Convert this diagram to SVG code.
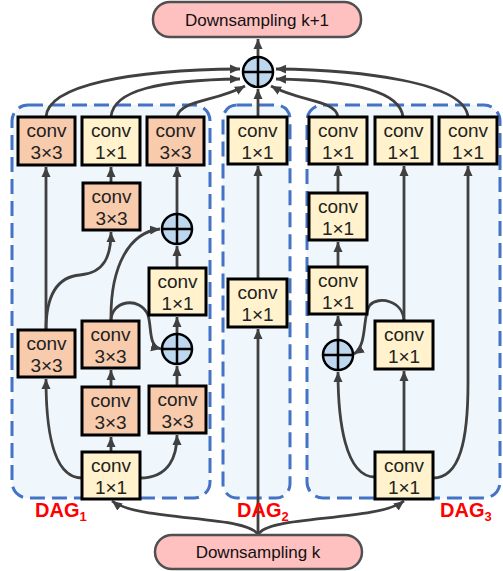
<svg xmlns="http://www.w3.org/2000/svg" width="503" height="571" viewBox="0 0 503 571">
<defs>
<marker id="ah" markerUnits="userSpaceOnUse" markerWidth="11" markerHeight="11" refX="10" refY="5.5" orient="auto">
<path d="M0,1 L10,5.5 L0,10 z" fill="#404040"/>
</marker>
<style>
.dag{fill:#eff7fd;stroke:#4472c4;stroke-width:3;stroke-dasharray:15 7}
.pill{fill:#ffc0c0;stroke:#505050;stroke-width:2.5}
.pt{font-family:"Liberation Sans",Arial,sans-serif;font-size:17px;fill:#111;text-anchor:middle}
.o rect{fill:#f8cbad;stroke:#000;stroke-width:3}
.y rect{fill:#fff2cc;stroke:#000;stroke-width:3}
.nt{font-family:"Liberation Sans",Arial,sans-serif;font-size:19px;fill:#222;text-anchor:middle}
.sum circle{fill:#bdd7ee;stroke:#000;stroke-width:2.5}
.sum path{stroke:#000;stroke-width:2.5;fill:none}
.c path{fill:none;stroke:#404040;stroke-width:2.8;marker-end:url(#ah)}
.lbl{font-family:"Liberation Sans",Arial,sans-serif;font-weight:bold;fill:#ff0000}
</style>
</defs>
<rect width="503" height="571" fill="#fff"/>
<g id="dag1box"><rect class="dag" x="12" y="105" width="198" height="393" rx="16"/></g>
<g id="dag2box"><rect class="dag" x="223" y="105" width="67" height="393" rx="14"/></g>
<g id="dag3box"><rect class="dag" x="307" y="105" width="193" height="393" rx="16"/></g>

<g id="connectors" class="c">
<path d="M258,57 L258,39"/>
<path d="M46,117 C48,85 130,70 240,69"/>
<path d="M111,117 C113,90 160,80 240,79"/>
<path d="M177,117 C180,100 215,102 245,86"/>
<path d="M338,117 C336,100 301,102 271,86"/>
<path d="M403,117 C400,88 340,80 276,79"/>
<path d="M468,117 C465,82 360,70 276,69"/>
<path d="M258,117 L258,89"/>
<path d="M111,452 L111,437"/>
<path d="M82,478 C50,478 46,420 46,379"/>
<path d="M140,478 C170,478 177,455 177,435"/>
<path d="M111,387 L111,370"/>
<path d="M177,386 L177,366"/>
<path d="M111,321 C111,300 140,296 148,315 C152,328 148,346 161,349"/>
<path d="M111,321 C110,265 130,232 160,229"/>
<path d="M46,330 L46,167"/>
<path d="M46,330 C46,300 55,277 80,275 C105,273 111,255 111,232"/>
<path d="M177,334 L177,317"/>
<path d="M177,268 L177,246"/>
<path d="M177,214 L177,167"/>
<path d="M111,183 L111,167"/>
<path d="M258,535 L258,329"/>
<path d="M258,279 L258,166"/>
<path d="M258,535 C250,515 140,522 112,501"/>
<path d="M258,535 C266,515 376,522 404,501"/>
<path d="M404,452 L404,371"/>
<path d="M375,477 C345,477 338,420 338,372"/>
<path d="M433,478 C460,478 468,440 468,383 L468,166"/>
<path d="M404,321 L404,166"/>
<path d="M404,321 C403,300 378,296 370,305 C362,315 368,345 354,354"/>
<path d="M338,340 L338,316"/>
<path d="M338,267 L338,242"/>
<path d="M338,193 L338,166"/>
</g>

<g id="top"><rect class="pill" x="153" y="2" width="208" height="35" rx="17"/><text class="pt" x="257" y="26">Downsampling k+1</text></g>
<g id="bottom"><rect class="pill" x="155" y="535" width="207" height="34" rx="17"/><text class="pt" x="258" y="558">Downsampling k</text></g>

<g id="sumTop" class="sum"><circle cx="258" cy="72" r="15"/><path d="M243,72 H273 M258,57 V87"/></g>
<g id="sum1u" class="sum"><circle cx="177" cy="229" r="15"/><path d="M162,229 H192 M177,214 V244"/></g>
<g id="sum1l" class="sum"><circle cx="177" cy="349" r="15"/><path d="M162,349 H192 M177,334 V364"/></g>
<g id="sum3" class="sum"><circle cx="338" cy="355" r="15"/><path d="M323,355 H353 M338,340 V370"/></g>

<g id="n1a" class="o"><rect x="18" y="117" width="57" height="48"/><text class="nt" x="46.5" y="137">conv</text><text class="nt" x="46.5" y="159">3×3</text></g>
<g id="n1b" class="y"><rect x="82" y="117" width="58" height="48"/><text class="nt" x="111" y="137">conv</text><text class="nt" x="111" y="159">1×1</text></g>
<g id="n1c" class="o"><rect x="147" y="117" width="57" height="48"/><text class="nt" x="175.5" y="137">conv</text><text class="nt" x="175.5" y="159">3×3</text></g>
<g id="n1d" class="o"><rect x="83" y="183" width="57" height="47"/><text class="nt" x="111.5" y="203">conv</text><text class="nt" x="111.5" y="225">3×3</text></g>
<g id="n1e" class="y"><rect x="149" y="268" width="57" height="47"/><text class="nt" x="177.5" y="288">conv</text><text class="nt" x="177.5" y="310">1×1</text></g>
<g id="n1f" class="o"><rect x="18" y="330" width="57" height="47"/><text class="nt" x="46.5" y="350">conv</text><text class="nt" x="46.5" y="372">3×3</text></g>
<g id="n1g" class="o"><rect x="82" y="321" width="57" height="47"/><text class="nt" x="110.5" y="341">conv</text><text class="nt" x="110.5" y="363">3×3</text></g>
<g id="n1h" class="o"><rect x="82" y="387" width="57" height="48"/><text class="nt" x="110.5" y="407">conv</text><text class="nt" x="110.5" y="429">3×3</text></g>
<g id="n1i" class="o"><rect x="149" y="386" width="57" height="47"/><text class="nt" x="177.5" y="406">conv</text><text class="nt" x="177.5" y="428">3×3</text></g>
<g id="n1j" class="y"><rect x="82" y="452" width="58" height="47"/><text class="nt" x="111" y="472">conv</text><text class="nt" x="111" y="494">1×1</text></g>

<g id="n2a" class="y"><rect x="228" y="117" width="59" height="47"/><text class="nt" x="257.5" y="137">conv</text><text class="nt" x="257.5" y="159">1×1</text></g>
<g id="n2b" class="y"><rect x="228" y="279" width="59" height="48"/><text class="nt" x="257.5" y="299">conv</text><text class="nt" x="257.5" y="321">1×1</text></g>

<g id="n3a" class="y"><rect x="309" y="117" width="58" height="47"/><text class="nt" x="338" y="137">conv</text><text class="nt" x="338" y="159">1×1</text></g>
<g id="n3b" class="y"><rect x="375" y="117" width="57" height="47"/><text class="nt" x="403.5" y="137">conv</text><text class="nt" x="403.5" y="159">1×1</text></g>
<g id="n3c" class="y"><rect x="439" y="117" width="58" height="47"/><text class="nt" x="468" y="137">conv</text><text class="nt" x="468" y="159">1×1</text></g>
<g id="n3d" class="y"><rect x="309" y="193" width="58" height="47"/><text class="nt" x="338" y="213">conv</text><text class="nt" x="338" y="235">1×1</text></g>
<g id="n3e" class="y"><rect x="309" y="267" width="58" height="47"/><text class="nt" x="338" y="287">conv</text><text class="nt" x="338" y="309">1×1</text></g>
<g id="n3f" class="y"><rect x="375" y="321" width="58" height="48"/><text class="nt" x="404" y="341">conv</text><text class="nt" x="404" y="363">1×1</text></g>
<g id="n3g" class="y"><rect x="375" y="452" width="58" height="47"/><text class="nt" x="404" y="472">conv</text><text class="nt" x="404" y="494">1×1</text></g>

<g id="labels">
<text class="lbl" x="35" y="517" font-size="20">DAG<tspan font-size="13" dy="4">1</tspan></text>
<text class="lbl" x="237" y="517" font-size="20">DAG<tspan font-size="13" dy="4">2</tspan></text>
<text class="lbl" x="440" y="517" font-size="20">DAG<tspan font-size="13" dy="4">3</tspan></text>
</g>
</svg>
